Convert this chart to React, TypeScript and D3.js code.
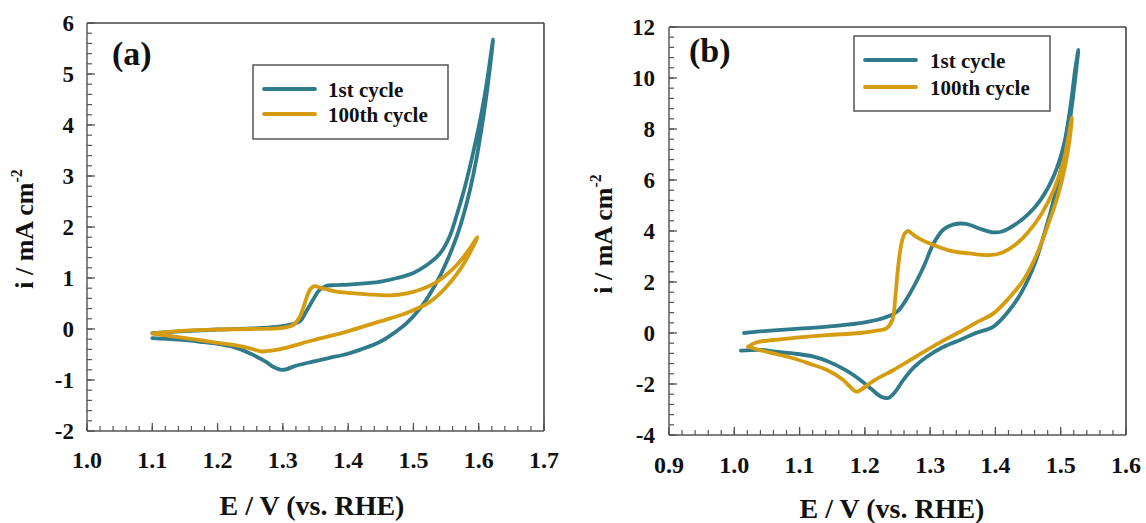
import React from "react";
import * as d3 from "d3";

const TEAL = "#2f7b8c";
const GOLD = "#d59c10";
const FONT = "'Liberation Serif', 'Times New Roman', serif";

const seriesNames = ["1st cycle", "100th cycle"];

const aXTicks = [1.0, 1.1, 1.2, 1.3, 1.4, 1.5, 1.6, 1.7];
const aYTicks = [-2, -1, 0, 1, 2, 3, 4, 5, 6];
const bXTicks = [0.9, 1.0, 1.1, 1.2, 1.3, 1.4, 1.5, 1.6];
const bYTicks = [-4, -2, 0, 2, 4, 6, 8, 10, 12];

// Panel (a) — 1st cycle (E, i)
const a1st: [number, number][] = [
  [1.10, -0.08], [1.15, -0.04], [1.2, -0.01], [1.25, 0.01], [1.29, 0.04], [1.31, 0.08],
  [1.326, 0.15], [1.336, 0.35], [1.346, 0.57], [1.355, 0.75], [1.365, 0.84], [1.38, 0.86],
  [1.4, 0.87], [1.43, 0.9], [1.45, 0.93], [1.475, 1.0], [1.5, 1.1], [1.52, 1.25],
  [1.54, 1.47], [1.555, 1.8], [1.566, 2.22], [1.576, 2.65], [1.585, 3.1], [1.594, 3.6],
  [1.603, 4.15], [1.612, 4.8], [1.622, 5.68],
  [1.617, 5.1], [1.611, 4.5], [1.604, 3.9], [1.596, 3.3], [1.587, 2.75], [1.577, 2.25],
  [1.566, 1.8], [1.553, 1.38], [1.54, 1.02], [1.525, 0.68], [1.51, 0.4], [1.49, 0.12],
  [1.47, -0.08], [1.449, -0.25], [1.42, -0.4], [1.398, -0.49], [1.37, -0.57], [1.346, -0.64],
  [1.32, -0.72], [1.305, -0.79], [1.298, -0.8], [1.285, -0.74], [1.275, -0.65], [1.25, -0.48],
  [1.224, -0.35], [1.2, -0.29], [1.173, -0.25], [1.14, -0.21], [1.10, -0.18],
];

// Panel (a) — 100th cycle
const a100th: [number, number][] = [
  [1.10, -0.09], [1.12, -0.06], [1.15, -0.03], [1.2, -0.01], [1.25, 0.0], [1.3, 0.02],
  [1.316, 0.08], [1.326, 0.24], [1.336, 0.6], [1.342, 0.78], [1.348, 0.84], [1.36, 0.8],
  [1.38, 0.74], [1.4, 0.71], [1.43, 0.68], [1.465, 0.66], [1.49, 0.7], [1.51, 0.77],
  [1.53, 0.88], [1.55, 1.06], [1.566, 1.25], [1.582, 1.5], [1.598, 1.8],
  [1.59, 1.58], [1.578, 1.3], [1.565, 1.05], [1.55, 0.82], [1.535, 0.63], [1.52, 0.49],
  [1.5, 0.37], [1.475, 0.25], [1.449, 0.15], [1.398, -0.05], [1.346, -0.22], [1.301, -0.38],
  [1.285, -0.42], [1.267, -0.44], [1.25, -0.38], [1.224, -0.31], [1.2, -0.27], [1.173, -0.22],
  [1.14, -0.16], [1.10, -0.09],
];

// Panel (b) — 1st cycle
const b1st: [number, number][] = [
  [1.015, 0.0], [1.05, 0.08], [1.1, 0.17], [1.15, 0.27], [1.2, 0.42], [1.23, 0.6],
  [1.25, 0.85], [1.27, 1.6], [1.29, 2.6], [1.305, 3.5], [1.32, 4.05], [1.335, 4.25],
  [1.355, 4.28], [1.375, 4.1], [1.395, 3.95], [1.41, 3.98], [1.43, 4.25], [1.45, 4.65],
  [1.47, 5.25], [1.49, 6.2], [1.505, 7.4], [1.515, 8.9], [1.522, 10.3], [1.527, 11.1],
  [1.525, 10.6], [1.515, 8.5], [1.505, 7.0], [1.49, 5.3], [1.475, 3.9], [1.46, 2.7],
  [1.44, 1.6], [1.42, 0.85], [1.397, 0.25], [1.37, 0.0], [1.346, -0.27], [1.32, -0.55],
  [1.295, -0.93], [1.275, -1.35], [1.259, -1.84], [1.245, -2.35], [1.236, -2.55], [1.225, -2.5],
  [1.21, -2.2], [1.193, -1.84], [1.17, -1.45], [1.142, -1.1], [1.12, -0.92], [1.09, -0.8],
  [1.06, -0.72], [1.039, -0.66], [1.01, -0.69],
];

// Panel (b) — 100th cycle
const b100th: [number, number][] = [
  [1.021, -0.54], [1.029, -0.42], [1.039, -0.34], [1.07, -0.25], [1.1, -0.17], [1.142, -0.08],
  [1.193, 0.0], [1.22, 0.1], [1.233, 0.18], [1.242, 0.5], [1.247, 1.5], [1.251, 2.6],
  [1.256, 3.5], [1.261, 3.9], [1.266, 4.0], [1.272, 3.9], [1.28, 3.75], [1.305, 3.45],
  [1.335, 3.2], [1.36, 3.12], [1.39, 3.05], [1.41, 3.15], [1.43, 3.45], [1.45, 3.95],
  [1.47, 4.65], [1.49, 5.65], [1.505, 6.8], [1.517, 8.45],
  [1.512, 7.3], [1.498, 5.6], [1.48, 4.2], [1.462, 3.0], [1.443, 2.08], [1.42, 1.35],
  [1.397, 0.77], [1.37, 0.4], [1.346, 0.05], [1.32, -0.3], [1.295, -0.67], [1.27, -1.05],
  [1.244, -1.45], [1.215, -1.85], [1.193, -2.24], [1.187, -2.3], [1.175, -2.05], [1.167, -1.84],
  [1.142, -1.45], [1.115, -1.2], [1.09, -0.99], [1.06, -0.8], [1.039, -0.67], [1.021, -0.54],
];

type PanelProps = {
  x0: number; x1: number; y0: number; y1: number;
  xDomain: [number, number]; yDomain: [number, number];
  xTicks: number[]; yTicks: number[];
  xMinor: number; yMinor: number;
  series: [number, number][][];
  label: string; labelX: number; labelY: number;
  legend: { x: number; y: number; w: number; h: number; lineY: number[]; lineX0: number; lineX1: number; textX: number; textY: number[] };
  xTitleX: number; xTitleY: number; yTitleX: number; yTitleY: number;
  xTickY: number; yTickX: number;
};

function Panel(p: PanelProps) {
  const xs = d3.scaleLinear().domain(p.xDomain).range([p.x0, p.x1]);
  const ys = d3.scaleLinear().domain(p.yDomain).range([p.y1, p.y0]);
  const line = d3
    .line<[number, number]>()
    .x((d) => xs(d[0]))
    .y((d) => ys(d[1]))
    .curve(d3.curveCatmullRom.alpha(0.5));
  const xMinorTicks = d3.range(p.xDomain[0], p.xDomain[1] + 1e-9, p.xMinor);
  const yMinorTicks = d3.range(p.yDomain[0], p.yDomain[1] + 1e-9, p.yMinor);
  const colors = [TEAL, GOLD];
  return (
    <g fontFamily={FONT} fontWeight="bold" fill="#111">
      {p.series.map((s, i) => (
        <path key={i} d={line(s) || ""} fill="none" stroke={colors[i]} strokeWidth={3.8} strokeLinejoin="round" strokeLinecap="round" />
      ))}
      <line x1={p.x0} x2={p.x1} y1={p.y0} y2={p.y0} stroke="#444" strokeWidth={1.6} />
      <line x1={p.x1} x2={p.x1} y1={p.y0} y2={p.y1} stroke="#444" strokeWidth={1.6} />
      <line x1={p.x0} x2={p.x0} y1={p.y0} y2={p.y1} stroke="#666" strokeWidth={1.6} />
      <line x1={p.x0} x2={p.x1} y1={p.y1} y2={p.y1} stroke="#555" strokeWidth={1.6} />
      {xMinorTicks.map((t, i) => (
        <line key={"xm" + i} x1={xs(t)} x2={xs(t)} y1={p.y1} y2={p.y1 - 5} stroke="#555" strokeWidth={1.2} />
      ))}
      {yMinorTicks.map((t, i) => (
        <line key={"ym" + i} x1={p.x0} x2={p.x0 + 5} y1={ys(t)} y2={ys(t)} stroke="#555" strokeWidth={1.2} />
      ))}
      {p.xTicks.map((t, i) => (
        <g key={"x" + i}>
          <line x1={xs(t)} x2={xs(t)} y1={p.y1} y2={p.y1 - 8} stroke="#555" strokeWidth={1.3} />
          <text x={xs(t)} y={p.xTickY} textAnchor="middle" fontSize={24}>{t.toFixed(1)}</text>
        </g>
      ))}
      {p.yTicks.map((t, i) => (
        <g key={"y" + i}>
          <line x1={p.x0} x2={p.x0 + 8} y1={ys(t)} y2={ys(t)} stroke="#555" strokeWidth={1.3} />
          <text x={p.yTickX} y={ys(t)} dy="0.34em" textAnchor="end" fontSize={23}>{String(t)}</text>
        </g>
      ))}
      <text x={p.labelX} y={p.labelY} fontSize={34}>{p.label}</text>
      <rect x={p.legend.x} y={p.legend.y} width={p.legend.w} height={p.legend.h} fill="white" stroke="#555" strokeWidth={1.5} />
      {seriesNames.map((n, i) => (
        <g key={n}>
          <line x1={p.legend.lineX0} x2={p.legend.lineX1} y1={p.legend.lineY[i]} y2={p.legend.lineY[i]} stroke={colors[i]} strokeWidth={3.8} strokeLinecap="round" />
          <text x={p.legend.textX} y={p.legend.textY[i]} fontSize={21}>{n}</text>
        </g>
      ))}
      <text x={p.xTitleX} y={p.xTitleY} textAnchor="middle" fontSize={28}>E / V (vs. RHE)</text>
      <text transform={`translate(${p.yTitleX},${p.yTitleY}) rotate(-90)`} textAnchor="middle" fontSize={26}>
        i / mA cm<tspan fontSize={16} dy={-11}>-2</tspan>
      </text>
    </g>
  );
}

export default function App() {
  return (
    <div style={{ position: "absolute", left: 0, top: 0 }}>
      <svg width={1146} height={523} viewBox="0 0 1146 523" style={{ display: "block", background: "white" }}>
        <Panel
          x0={87} x1={544} y0={23} y1={431}
          xDomain={[1.0, 1.7]} yDomain={[-2, 6]}
          xTicks={aXTicks} yTicks={aYTicks}
          xMinor={0.02} yMinor={0.2}
          series={[a1st, a100th]}
          label="(a)" labelX={112} labelY={65}
          legend={{ x: 253, y: 65, w: 195, h: 74, lineY: [89, 114], lineX0: 264, lineX1: 315, textX: 328, textY: [97, 122] }}
          xTitleX={312} xTitleY={515} yTitleX={33} yTitleY={229}
          xTickY={468} yTickX={74}
        />
        <Panel
          x0={669} x1={1126} y0={27} y1={435}
          xDomain={[0.9, 1.6]} yDomain={[-4, 12]}
          xTicks={bXTicks} yTicks={bYTicks}
          xMinor={0.02} yMinor={0.4}
          series={[b1st, b100th]}
          label="(b)" labelX={689} labelY={62}
          legend={{ x: 854, y: 36, w: 196, h: 75, lineY: [60, 87], lineX0: 865, lineX1: 916, textX: 930, textY: [68, 95] }}
          xTitleX={892} xTitleY={518} yTitleX={612} yTitleY={234}
          xTickY={473} yTickX={655}
        />
      </svg>
    </div>
  );
}
